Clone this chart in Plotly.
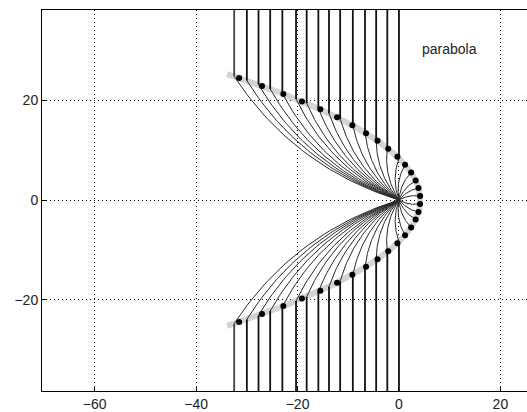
import numpy as np
import plotly.graph_objects as go

# ---- values ----
ray_x = [0.0, -2.3, -4.5, -6.7, -9.1, -11.6, -13.8, -15.9, -18.2, -20.3, -23.0, -25.4, -27.7, -30.0, -32.5]
dot_y = [0.8, 2.4, 3.9, 5.5, 7.1, 8.7, 10.3, 11.9, 13.4, 15.0, 16.6, 18.2, 19.8, 21.3, 22.9, 24.5]
apex_x = 4.2           # vertex of the parabola (focus at the origin)
band_ymax = 25.3       # extent of the grey parabola band
x_ticks = [-60, -40, -20, 0, 20]
y_ticks = [-20, 0, 20]
x_range = [-70.4, 25.25]
y_range = [-38.35, 38.15]
label_text = "parabola"
label_pos = (9.9, 30.3)

f = apex_x


def parab_x(y):
    y = np.asarray(y, dtype=float)
    return f - y ** 2 / (4 * f)


def bezier_to_origin(px, py, sag_frac=0.09, n=40):
    P = np.array([px, py])
    L = np.hypot(px, py)
    d = -P / L
    nvec = np.array([d[1], -d[0]])  # clockwise normal
    C = P / 2 + 2 * sag_frac * L * nvec
    t = np.linspace(0, 1, n)[:, None]
    B = (1 - t) ** 2 * P + 2 * t * (1 - t) * C
    return B[:, 0], B[:, 1]


fig = go.Figure()

# grey parabola band
yb = np.linspace(-band_ymax, band_ymax, 200)
fig.add_trace(go.Scatter(x=parab_x(yb), y=yb, mode="lines",
                         line=dict(color="#d4d4d4", width=6), hoverinfo="skip"))

# rays: vertical segment then curve into the focus
for sgn in (1, -1):
    y_end = y_range[1] if sgn > 0 else y_range[0]
    for i, rx in enumerate(ray_x):
        yc = np.sqrt(4 * f * (f - rx))
        bx, by = bezier_to_origin(rx, yc)
        vcol = "#444444" if i == len(ray_x) - 1 else "#111111"
        fig.add_trace(go.Scatter(x=[rx, rx], y=[y_end, sgn * yc],
                                 mode="lines", line=dict(color=vcol, width=1.8),
                                 hoverinfo="skip"))
        fig.add_trace(go.Scatter(x=bx, y=sgn * by, mode="lines",
                                 line=dict(color="#2a2a2a", width=1.0), hoverinfo="skip"))
    # extra short curves from the apex dots
    for dy in dot_y:
        dx = float(parab_x(dy))
        if dx > 0:
            bx, by = bezier_to_origin(dx, dy)
            fig.add_trace(go.Scatter(x=bx, y=sgn * by, mode="lines",
                                     line=dict(color="#2a2a2a", width=1.0), hoverinfo="skip"))

# dots on the parabola
dy_all = np.concatenate([np.array(dot_y), -np.array(dot_y)])
fig.add_trace(go.Scatter(x=parab_x(dy_all), y=dy_all, mode="markers",
                         marker=dict(color="black", size=6), hoverinfo="skip"))

fig.add_annotation(x=label_pos[0], y=label_pos[1], text=label_text, showarrow=False,
                   font=dict(family="Liberation Sans, Arial", size=14, color="#222"))

axis_common = dict(showgrid=True, gridcolor="black", griddash="1px,3px", gridwidth=1,
                   zeroline=False, showline=True, linecolor="black", linewidth=1,
                   ticks="inside", ticklen=4, tickcolor="black",
                   tickfont=dict(family="Liberation Sans, Arial", size=14, color="#222"))

fig.update_xaxes(range=x_range, tickvals=x_ticks,
                 ticktext=[("−" + str(-v)) if v < 0 else str(v) for v in x_ticks],
                 mirror=True, **axis_common)
fig.update_yaxes(range=y_range, tickvals=y_ticks,
                 ticktext=[("−" + str(-v)) if v < 0 else str(v) for v in y_ticks],
                 mirror=False, **axis_common)

fig.update_layout(width=527, height=412, showlegend=False,
                  margin=dict(l=42, r=0, t=9.5, b=18),
                  plot_bgcolor="white", paper_bgcolor="white")

fig.write_html("out.html", config={"displayModeBar": False},
               post_script="document.body.style.margin='0';document.body.style.padding='0';")
